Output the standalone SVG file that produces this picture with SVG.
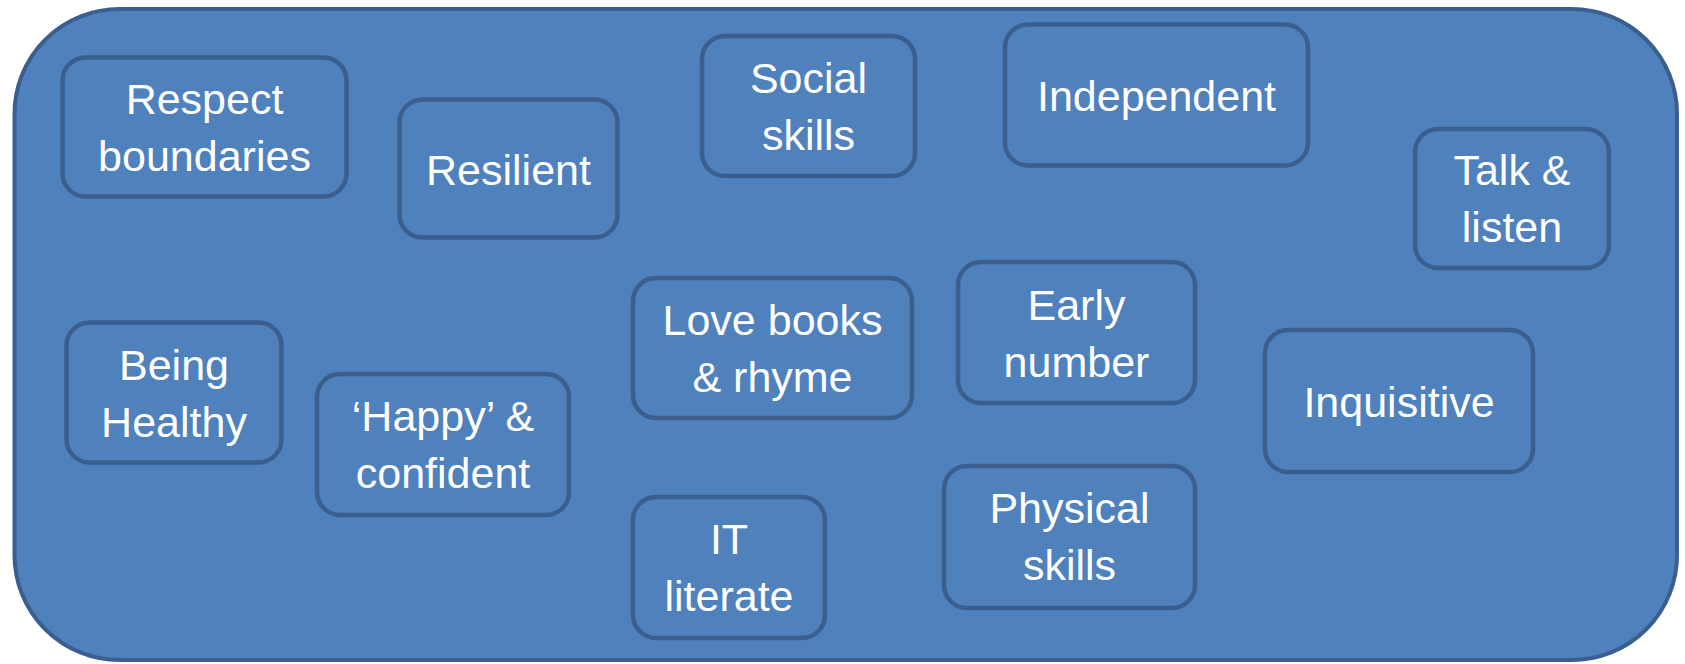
<svg xmlns="http://www.w3.org/2000/svg" width="1685" height="664" viewBox="0 0 1685 664">
<style>
.frame{fill:#4f81bd;stroke:#3a5f8e;stroke-width:4}
.box{fill:#4f81bd;stroke:#3a5f8e;stroke-width:4.5}
.t{fill:#ffffff;font-family:"Liberation Sans",Arial,sans-serif;font-size:43px;text-anchor:middle}
</style>
<rect width="1685" height="664" fill="#ffffff"/>
<g id="container">
<rect class="frame" x="14.5" y="9" width="1662.5" height="651" rx="105" ry="105"/>
</g>
<g id="connectors"></g>
<g id="n-respect">
<rect class="box" x="62.5" y="57.5" width="284" height="139" rx="23"/>
<text class="t" x="204.5" y="114">Respect</text>
<text class="t" x="204.5" y="171">boundaries</text>
</g>
<g id="n-resilient">
<rect class="box" x="399.5" y="99.5" width="218" height="138" rx="23"/>
<text class="t" x="508.5" y="184.5">Resilient</text>
</g>
<g id="n-social">
<rect class="box" x="702" y="36" width="213" height="140" rx="23"/>
<text class="t" x="808.5" y="93">Social</text>
<text class="t" x="808.5" y="150">skills</text>
</g>
<g id="n-independent">
<rect class="box" x="1005" y="24.5" width="303" height="141" rx="23"/>
<text class="t" x="1156.5" y="111">Independent</text>
</g>
<g id="n-talk">
<rect class="box" x="1415" y="129" width="194" height="139" rx="23"/>
<text class="t" x="1512" y="185">Talk &amp;</text>
<text class="t" x="1512" y="242">listen</text>
</g>
<g id="n-healthy">
<rect class="box" x="66.5" y="322.5" width="215" height="140" rx="23"/>
<text class="t" x="174" y="380">Being</text>
<text class="t" x="174" y="437">Healthy</text>
</g>
<g id="n-happy">
<rect class="box" x="317" y="374" width="252" height="141" rx="23"/>
<text class="t" x="443" y="431">‘Happy’ &amp;</text>
<text class="t" x="443" y="488">confident</text>
</g>
<g id="n-books">
<rect class="box" x="633" y="278" width="279" height="140" rx="23"/>
<text class="t" x="772.5" y="335">Love books</text>
<text class="t" x="772.5" y="392">&amp; rhyme</text>
</g>
<g id="n-early">
<rect class="box" x="958" y="262" width="237" height="141" rx="23"/>
<text class="t" x="1076.5" y="320">Early</text>
<text class="t" x="1076.5" y="377">number</text>
</g>
<g id="n-inquisitive">
<rect class="box" x="1265" y="330" width="268" height="142" rx="23"/>
<text class="t" x="1399" y="417">Inquisitive</text>
</g>
<g id="n-it">
<rect class="box" x="633" y="497" width="192" height="141" rx="23"/>
<text class="t" x="729" y="554">IT</text>
<text class="t" x="729" y="611">literate</text>
</g>
<g id="n-physical">
<rect class="box" x="944" y="466" width="251" height="142" rx="23"/>
<text class="t" x="1069.5" y="523">Physical</text>
<text class="t" x="1069.5" y="580">skills</text>
</g>
</svg>
